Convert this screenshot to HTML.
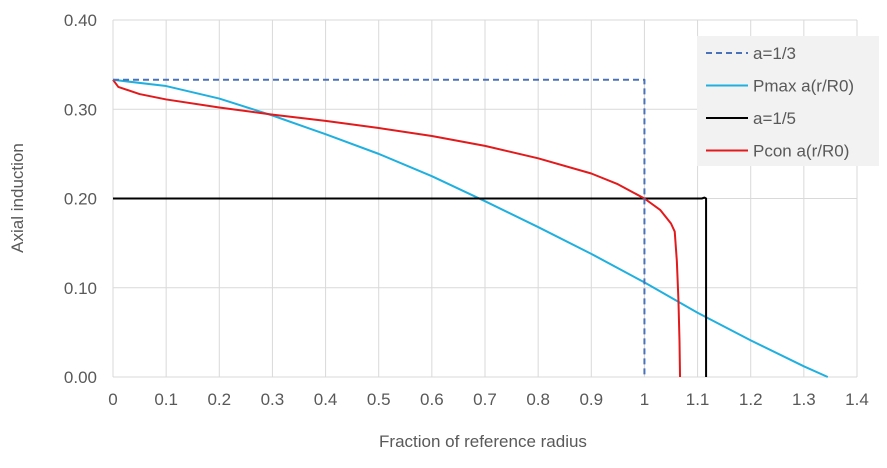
<!DOCTYPE html>
<html><head><meta charset="utf-8"><style>
body{margin:0;background:#fff;font-family:"Liberation Sans",sans-serif}
svg text{font-family:"Liberation Sans",sans-serif;fill:#595959}
</style></head><body>
<svg width="887" height="463" id="c"></svg>
<script>
const xTicks=[0,0.1,0.2,0.3,0.4,0.5,0.6,0.7,0.8,0.9,1,1.1,1.2,1.3,1.4];
const yTicks=[0,0.1,0.2,0.3,0.4];
const yTickLabels=["0.00","0.10","0.20","0.30","0.40"];
const seriesA13x=[0,1,1];
const seriesA13y=[0.333,0.333,0];
const pmaxX=[0,0.1,0.2,0.3,0.4,0.5,0.6,0.7,0.8,0.9,1.0,1.1,1.2,1.3,1.345];
const pmaxY=[0.333,0.326,0.312,0.293,0.272,0.250,0.225,0.197,0.168,0.138,0.106,0.072,0.041,0.012,0.0];
const a15x=[0,1.108,1.113,1.116,1.116];
const a15y=[0.2,0.2,0.201,0.2,0];
const pconX=[0,0.01,0.05,0.1,0.2,0.3,0.4,0.5,0.6,0.7,0.8,0.9,0.95,1.0,1.03,1.05,1.057,1.061,1.064,1.066,1.067];
const pconY=[0.333,0.325,0.317,0.311,0.302,0.294,0.287,0.279,0.270,0.259,0.245,0.228,0.216,0.200,0.187,0.172,0.163,0.13,0.086,0.04,0.0];
const X0=113,X1=857,Y0=377,Y1=20;
const sx=v=>X0+v/1.4*(X1-X0), sy=v=>Y0-v/0.4*(Y0-Y1);
const svg=document.getElementById('c'),NS='http://www.w3.org/2000/svg';
function mk(t,a,txt){const e=document.createElementNS(NS,t);for(const k in a)e.setAttribute(k,a[k]);if(txt!=null)e.textContent=txt;svg.appendChild(e);return e;}
xTicks.forEach(v=>{
 const g=mk('line',{x1:sx(v),x2:sx(v),y1:Y1,y2:Y0,stroke:'#d9d9d9','stroke-width':1});
 
 
 const t=mk('text',{x:sx(v),y:405,'text-anchor':'middle','font-size':17},String(v));
 
 
});
yTicks.forEach((v,i)=>{
 const g=mk('line',{x1:X0,x2:X1,y1:sy(v),y2:sy(v),stroke:'#d9d9d9','stroke-width':1});
 
 
 const t=mk('text',{x:97,y:sy(v)+6,'text-anchor':'end','font-size':17},yTickLabels[i]);
 
 
});
function line(xs,ys,st,name){
 const p=mk('polyline',Object.assign({points:xs.map((x,i)=>sx(x)+','+sy(ys[i])).join(' '),fill:'none','stroke-linejoin':'round'},st));
 
 
}
line(pmaxX,pmaxY,{stroke:'#1fb0e0','stroke-width':2},'pmax-series');
line(a15x,a15y,{stroke:'#000','stroke-width':2},'a-one-fifth-series');
line(pconX,pconY,{stroke:'#e31a1c','stroke-width':2},'pcon-series');
line(seriesA13x,seriesA13y,{stroke:'#4a72b8','stroke-width':2,'stroke-dasharray':'6,4'},'a-one-third-series');
const ax=mk('text',{x:483,y:447,'text-anchor':'middle','font-size':17},'Fraction of reference radius');

const ay=mk('text',{x:23,y:198,'text-anchor':'middle','font-size':17,transform:'rotate(-90 23 198)'},'Axial induction');

const lg=mk('rect',{x:697,y:36,width:182,height:130,fill:'#f2f2f2'});

const L=[['a=1/3','#4a72b8','6,4'],['Pmax a(r/R0)','#1fb0e0',''],['a=1/5','#000',''],['Pcon a(r/R0)','#e31a1c','']];
L.forEach((l,i)=>{const y=53+i*32.5;
 const s=mk('line',{x1:706,x2:748,y1:y,y2:y,stroke:l[1],'stroke-width':2,'stroke-dasharray':l[2]||'none'});
 
 const t=mk('text',{x:753,y:y+6,'font-size':17},l[0]);
 
});
</script>
</body></html>
